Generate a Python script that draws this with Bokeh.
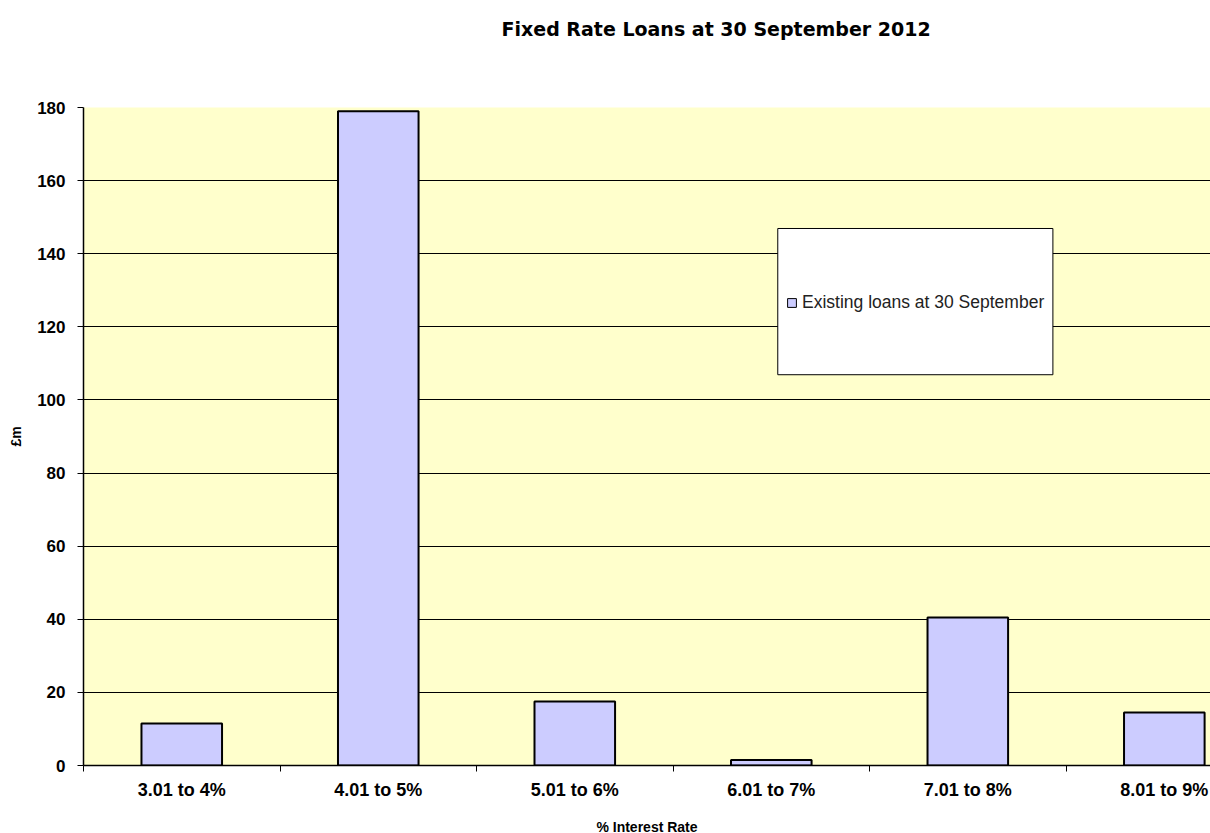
from bokeh.plotting import figure
from bokeh.models import (ColumnDataSource, FixedTicker, BoxAnnotation, Legend,
                          LegendItem, Range1d, LinearAxis)
from bokeh.embed import file_html
from bokeh.resources import INLINE
import numpy as np

categories = ["3.01 to 4%", "4.01 to 5%", "5.01 to 6%", "6.01 to 7%", "7.01 to 8%", "8.01 to 9%"]
values = [11.5, 179, 17.5, 1.5, 40.5, 14.5]
y_ticks = [0, 20, 40, 60, 80, 100, 120, 140, 160, 180]
series_name = "Existing loans at 30 September"
title_text = "Fixed Rate Loans at 30 September 2012"
x_title = "% Interest Rate"
y_title = "£m"

x = np.arange(len(categories)) + 0.5
src = ColumnDataSource(dict(x=x, top=values, cat=categories))

p = figure(frame_width=1127, frame_height=658, output_backend="svg", toolbar_location=None,
           x_range=Range1d(0, 5.735), y_range=Range1d(0, 180),
           min_border_left=83, min_border_right=0, min_border_top=107, min_border_bottom=68)

p.background_fill_color = "#FFFFCC"
p.border_fill_color = "white"
p.outline_line_color = None

# bars
p.vbar(x="x", top="top", width=0.41, source=src, fill_color="#CCCCFF",
       line_color="black", line_width=2)

# legend swatch renderer (hidden on the plot, shown in the legend)
proxy = p.vbar(x="x", top="top", width=0.4, source=src, visible=False,
               fill_color="#CCCCFF", line_color="black", line_width=1)

# grid
p.xgrid.visible = False
p.ygrid.grid_line_color = "black"
p.ygrid.grid_line_width = 1

# y axis
p.yaxis.ticker = FixedTicker(ticks=y_ticks)
p.yaxis.minor_tick_line_color = None
p.yaxis.major_tick_out = 6
p.yaxis.major_tick_in = 0
p.yaxis.major_tick_line_color = "black"
p.yaxis.axis_line_color = "black"
p.yaxis.axis_line_width = 1.5
p.yaxis.major_label_standoff = 12
p.yaxis.major_label_text_font = "Liberation Sans"
p.yaxis.major_label_text_font_size = "17px"
p.yaxis.major_label_text_font_style = "bold"
p.yaxis.major_label_text_color = "black"
p.yaxis.axis_label = y_title
p.yaxis.axis_label_text_font = "Liberation Sans"
p.yaxis.axis_label_text_font_size = "14px"
p.yaxis.axis_label_text_font_style = "bold"
p.yaxis.axis_label_text_color = "black"
p.yaxis.axis_label_standoff = 10

# x axis
p.xaxis.ticker = FixedTicker(ticks=list(x), minor_ticks=list(range(len(categories) + 1)))
p.xaxis.major_label_overrides = {float(xi): c for xi, c in zip(x, categories)}
p.xaxis.major_tick_line_color = None
p.xaxis.major_tick_out = 0
p.xaxis.major_tick_in = 0
p.xaxis.minor_tick_line_color = "black"
p.xaxis.minor_tick_out = 6
p.xaxis.minor_tick_in = 0
p.xaxis.axis_line_color = "black"
p.xaxis.axis_line_width = 1.5
p.xaxis.major_label_standoff = 8
p.xaxis.major_label_text_font = "Liberation Sans"
p.xaxis.major_label_text_font_size = "18px"
p.xaxis.major_label_text_font_style = "bold"
p.xaxis.major_label_text_color = "black"
p.xaxis.axis_label = x_title
p.xaxis.axis_label_text_font = "Liberation Sans"
p.xaxis.axis_label_text_font_size = "14px"
p.xaxis.axis_label_text_font_style = "bold"
p.xaxis.axis_label_text_color = "black"
p.xaxis.axis_label_standoff = 16

# blank spacer axis above the frame, so the title sits near the top of the page
spacer = LinearAxis(ticker=FixedTicker(ticks=[0]), major_tick_out=68, major_tick_in=0,
                    minor_tick_out=0, minor_tick_in=0, major_label_standoff=0,
                    axis_line_color=None, major_tick_line_color="white",
                    minor_tick_line_color=None, major_label_text_color=None,
                    major_label_text_font_size="1px")
p.add_layout(spacer, "above")

# chart title
p.title.text = title_text
p.title.align = "left"
p.title.offset = 418
p.title.standoff = 0
p.title.text_font = "DejaVu Sans"
p.title.text_font_size = "19px"
p.title.text_font_style = "bold"
p.title.text_color = "black"

# legend box
box = BoxAnnotation(left=3.533, right=4.933, bottom=106.9, top=146.9,
                    fill_color="white", fill_alpha=1, line_color="black", line_alpha=1,
                    line_width=1)
p.add_layout(box)

legend = Legend(items=[LegendItem(label=series_name, renderers=[proxy])],
                location=(703, 452), padding=10, margin=0, click_policy="none",
                glyph_width=11, glyph_height=11, label_standoff=5,
                label_text_font="Liberation Sans", label_text_font_size="17.5px",
                label_text_color="#222222", inactive_fill_alpha=0,
                border_line_color=None, background_fill_alpha=0)
p.add_layout(legend)

open("out.html", "w").write(file_html(p, INLINE))
